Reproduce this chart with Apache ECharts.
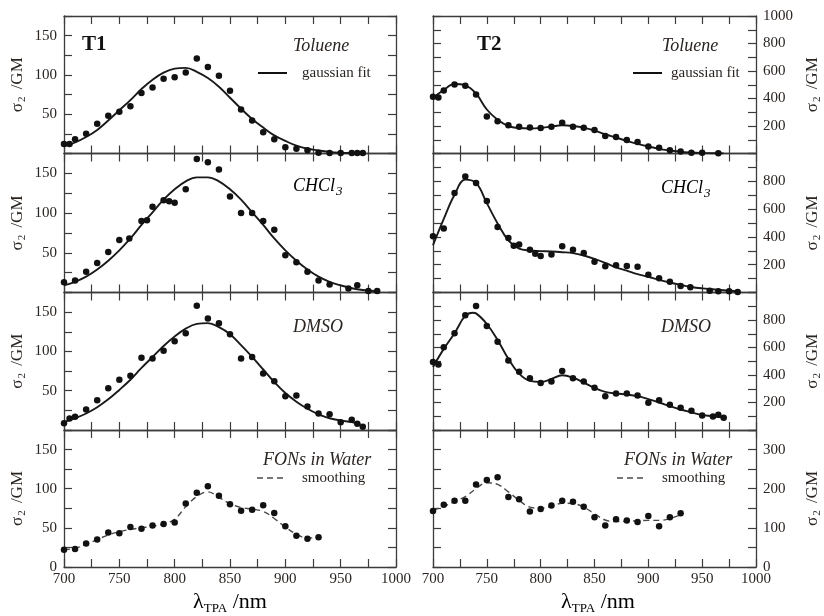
<!DOCTYPE html>
<html>
<head>
<meta charset="utf-8">
<script src="https://cdn.jsdelivr.net/npm/echarts@6/dist/echarts.min.js"></script>
<style>html,body{margin:0;padding:0;background:#fff;}#c{width:824px;height:616px;}</style>
</head>
<body>
<div id="c"></div>
<script>
// ---------------- data ----------------
const xTicks = [700, 750, 800, 850, 900, 950, 1000];

// T1
const t1TolPts = [[700,12],[705,12],[710,18],[720,25],[730,38],[740,48],[750,53],[760,60],[770,77],[780,84],[790,95],[800,97],[810,103],[820,121],[830,110],[840,99],[850,80],[860,56],[870,42],[880,27],[890,18],[900,8],[910,6],[920,4],[930,1],[940,0.5],[950,0.5],[960,0.5],[965,0.5],[970,0.5]];
const t1TolFit = [[700,9],[710,14],[720,21],[730,30],[740,42],[750,55],[760,68],[770,82],[780,94],[790,103],[800,108],[810,109],[820,104],[830,96],[840,85],[850,71],[860,57],[870,44],[880,33],[890,23],[900,16],[910,10],[920,6],[930,4],[940,2],[950,1],[960,0.6],[970,0.3]];

const t1ChPts = [[700,13],[710,15],[720,26],[730,37],[740,51],[750,66],[759,68],[770,90],[775,91],[780,108],[790,116],[795,115],[800,113],[810,130],[820,168],[830,164],[840,155],[850,121],[860,100],[870,100],[880,90],[890,79],[900,47],[910,38],[920,26],[930,15],[940,10],[957,5],[965,9],[975,2],[983,2]];
const t1ChFit = [[700,9],[710,13.5],[720,20],[730,29],[740,40],[750,53],[760,68],[770,85],[780,101],[790,117],[800,130],[810,140],[820,145],[830,145],[840,140],[850,130],[860,117],[870,101],[880,85],[890,68],[900,53],[910,40],[920,29],[930,20],[940,13.5],[950,9],[960,5.4],[970,3.2],[985,1.5]];

const t1DmPts = [[700,8.5],[705,14.5],[710,17],[720,26],[730,38],[740,53],[750,64],[760,69],[770,92],[780,91],[790,101],[800,113],[810,123],[820,158],[830,142],[840,136],[850,122],[860,91],[870,93],[880,72],[890,62],[900,43],[910,44],[920,30],[930,21],[940,20],[950,10],[960,13],[965,8],[970,4]];
const t1DmFit = [[700,10],[710,15],[720,21],[730,29],[740,39],[750,51],[760,64],[770,79],[780,93],[790,107],[800,119],[810,129],[820,135],[830,136],[840,131],[850,122],[860,108],[870,93],[880,77],[890,61],[900,47],[910,36],[920,27],[930,20],[940,15],[950,12],[960,10],[968,7]];

const t1WaPts = [[700,22],[710,23],[720,30],[730,35],[740,44],[750,43],[760,51],[770,49],[780,53],[790,55],[800,57],[810,81],[820,95],[830,103],[840,91],[850,80],[860,72],[870,73],[880,79],[890,69],[900,52],[910,40],[920,36],[930,38]];
const t1WaSmooth = [[700,22],[710,24],[720,29],[730,35],[740,41],[750,45],[760,48],[770,50],[780,52],[790,55],[800,61],[810,77],[820,90],[830,96],[840,89],[850,81],[860,76],[870,74],[880,71],[890,62],[900,51],[910,42],[920,37],[930,38]];

// T2
const t2TolPts = [[700,412],[705,407],[710,458],[720,501],[730,492],[740,429],[750,270],[760,234],[770,205],[780,195],[790,190],[800,186],[810,195],[820,224],[830,195],[840,188],[850,171],[860,128],[870,120],[880,99],[890,84],[900,51],[910,41],[920,24],[930,14],[940,5],[950,5],[965,2]];
const t2TolFit = [[700,405],[710,462],[720,505],[730,495],[740,435],[750,320],[760,245],[770,200],[780,185],[790,182],[800,186],[810,196],[820,205],[830,200],[840,188],[850,166],[860,140],[870,116],[880,92],[890,70],[900,51],[910,34],[920,22],[930,12],[940,7],[950,4],[960,2],[970,1]];

const t2ChPts = [[700,404],[710,460],[720,715],[730,834],[740,788],[750,659],[760,472],[770,392],[775,336],[780,346],[790,307],[795,278],[800,263],[810,273],[820,332],[830,307],[840,285],[850,222],[860,188],[870,196],[880,191],[890,186],[900,128],[910,103],[920,77],[930,47],[939,38],[957,13],[965,9],[975,9],[983,4]];
const t2ChFit = [[700,340],[710,530],[720,703],[730,812],[740,788],[750,643],[760,497],[770,375],[780,315],[790,302],[800,298],[810,295],[820,290],[830,283],[840,266],[850,242],[860,213],[870,181],[880,157],[890,132],[900,113],[910,91],[920,72],[930,55],[940,40],[950,30],[960,23],[970,16],[980,11],[985,10]];

const t2DmPts = [[700,494],[705,477],[710,602],[720,704],[730,834],[740,901],[750,757],[760,641],[770,506],[780,424],[790,376],[800,342],[810,352],[820,429],[830,376],[840,352],[850,308],[860,246],[870,265],[880,265],[890,251],[900,198],[910,217],[920,183],[930,161],[940,140],[950,106],[960,99],[965,111],[970,89]];
const t2DmFit = [[700,458],[710,590],[720,704],[730,831],[737,853],[740,848],[750,771],[760,655],[770,518],[780,410],[790,357],[800,349],[810,371],[820,398],[830,381],[840,345],[850,306],[860,277],[870,265],[880,258],[890,246],[900,224],[910,200],[920,173],[930,149],[940,128],[950,108],[960,101],[970,89]];

const t2WaPts = [[700,143],[710,159],[720,169],[730,169],[740,211],[750,222],[760,229],[770,179],[780,173],[790,142],[800,148],[810,157],[820,169],[830,167],[840,154],[850,127],[860,106],[870,122],[880,119],[890,115],[900,130],[910,104],[920,127],[930,137]];
const t2WaSmooth = [[700,145],[710,155],[720,167],[730,180],[740,200],[750,215],[760,211],[770,192],[780,170],[790,153],[800,150],[810,155],[820,163],[830,162],[840,153],[850,136],[860,120],[870,116],[880,117],[890,118],[900,119],[910,119],[920,124],[930,133]];

const solventNames = ['Toluene', 'CHCl3', 'DMSO', 'FONs in Water'];
const compoundNames = ['T1', 'T2'];
const leftYLabels = [50, 100, 150];
const rightYLabels = [200, 400, 600, 800, 1000];
const waterRightYLabels = [0, 100, 200, 300];

// ---------------- layout / styles ----------------
const SERIF = "'Liberation Serif','DejaVu Serif',serif";
const TXT = '#2b2522';
const AX = '#3c3c3c';
const cols = [{left: 64, width: 332}, {left: 433, width: 331}];
const rows = [{top: 16, height: 137.5}, {top: 153.5, height: 139}, {top: 292.5, height: 137.5}, {top: 430, height: 137}];

const panels = [
  {r:0, c:0, pts:t1TolPts, fit:t1TolFit, dash:false},
  {r:1, c:0, pts:t1ChPts, fit:t1ChFit, dash:false},
  {r:2, c:0, pts:t1DmPts, fit:t1DmFit, dash:false},
  {r:3, c:0, pts:t1WaPts, fit:t1WaSmooth, dash:true},
  {r:0, c:1, pts:t2TolPts, fit:t2TolFit, dash:false},
  {r:1, c:1, pts:t2ChPts, fit:t2ChFit, dash:false},
  {r:2, c:1, pts:t2DmPts, fit:t2DmFit, dash:false},
  {r:3, c:1, pts:t2WaPts, fit:t2WaSmooth, dash:true}
];

const yRich = {
  a: {fontFamily: SERIF, fontSize: 17, color: TXT},
  s: {fontFamily: SERIF, fontSize: 11, color: TXT, padding: [10, 3, 0, 1]}
};
const yName = '{a|σ}{s|2}{a| /GM}';

const grid = [], xAxis = [], yAxis = [], series = [];
panels.forEach((p, i) => {
  grid.push({left: cols[p.c].left, width: cols[p.c].width, top: rows[p.r].top, height: rows[p.r].height});
  const line = {show: true, onZero: false, lineStyle: {color: AX, width: 1.3}};
  const tick = {show: true, inside: true, length: 8, lineStyle: {color: AX, width: 1.2}};
  ['bottom', 'top'].forEach(pos => {
    xAxis.push({
      gridIndex: i, type: 'value', position: pos, min: 700, max: 1000, interval: 25,
      axisLine: line, axisTick: tick, splitLine: {show: false},
      axisLabel: {show: pos === 'bottom' && p.r === 3, margin: 5, fontFamily: SERIF, fontSize: 15, color: TXT,
        formatter: v => xTicks.indexOf(v) >= 0 ? String(v) : ''}
    });
  });
  let ymax, yint, labs;
  if (p.c === 0) { ymax = 175; yint = 25; labs = p.r === 3 ? [0].concat(leftYLabels) : leftYLabels; }
  else if (p.r === 3) { ymax = 350; yint = 50; labs = waterRightYLabels; }
  else { ymax = 1000; yint = 100; labs = p.r === 0 ? rightYLabels : rightYLabels.slice(0, 4); }
  ['left', 'right'].forEach(pos => {
    const labelled = (pos === 'left' && p.c === 0) || (pos === 'right' && p.c === 1);
    yAxis.push({
      gridIndex: i, type: 'value', position: pos, min: 0, max: ymax, interval: yint,
      axisLine: line, axisTick: tick, splitLine: {show: false},
      axisLabel: {show: labelled, margin: 7, fontFamily: SERIF, fontSize: 15, color: TXT,
        formatter: v => labs.indexOf(v) >= 0 ? String(v) : ''},
      name: labelled ? yName : '', nameLocation: 'middle', nameRotate: 90,
      nameGap: p.c === 0 ? 36 : 46,
      nameTextStyle: {rich: yRich}
    });
  });
  series.push({
    type: 'line', xAxisIndex: 2 * i, yAxisIndex: 2 * i, data: p.fit, smooth: 0.4,
    showSymbol: false, silent: true, z: 2,
    lineStyle: p.dash ? {color: '#4a4a4a', width: 1.4, type: [6, 4]} : {color: '#1a1a1a', width: 1.9}
  });
  series.push({
    type: 'scatter', xAxisIndex: 2 * i, yAxisIndex: 2 * i, data: p.pts, symbol: 'circle',
    symbolSize: 6.5, itemStyle: {color: '#111', opacity: 1}, z: 3
  });
});

// ---------------- annotations ----------------
const it = (txt, x, y, size) => ({type: 'text', x: x, y: y, style: {text: txt, fontFamily: SERIF, fontStyle: 'italic', fontSize: size, fill: TXT, verticalAlign: 'middle'}});
const graphic = [];
graphic.push({type: 'text', x: 82, y: 45, style: {text: compoundNames[0], fontFamily: SERIF, fontWeight: 'bold', fontSize: 21, fill: '#111', verticalAlign: 'middle'}});
graphic.push({type: 'text', x: 477, y: 45, style: {text: compoundNames[1], fontFamily: SERIF, fontWeight: 'bold', fontSize: 21, fill: '#111', verticalAlign: 'middle'}});
[[0, 293, 302, 258], [1, 662, 671, 633]].forEach(([c, tx, lx, l0]) => {
  graphic.push(it(solventNames[0], tx, 46, 18));
  graphic.push({type: 'line', shape: {x1: l0, y1: 73, x2: l0 + 29, y2: 73}, style: {stroke: '#111', lineWidth: 2}});
  graphic.push({type: 'text', x: lx, y: 73, style: {text: 'gaussian fit', fontFamily: SERIF, fontSize: 15, fill: TXT, verticalAlign: 'middle'}});
});
const chRich = {i: {fontFamily: SERIF, fontStyle: 'italic', fontSize: 18, color: TXT}, s: {fontFamily: SERIF, fontStyle: 'italic', fontSize: 13, color: TXT, padding: [12, 0, 0, 1]}};
graphic.push({type: 'text', x: 293, y: 186, style: {text: '{i|CHCl}{s|3}', rich: chRich, verticalAlign: 'middle'}});
graphic.push({type: 'text', x: 661, y: 188, style: {text: '{i|CHCl}{s|3}', rich: chRich, verticalAlign: 'middle'}});
graphic.push(it(solventNames[2], 293, 327, 18));
graphic.push(it(solventNames[2], 661, 327, 18));
graphic.push(it(solventNames[3], 263, 460, 18));
graphic.push(it(solventNames[3], 624, 460, 18));
[[257, 302], [617, 662]].forEach(([l0, tx]) => {
  graphic.push({type: 'line', shape: {x1: l0, y1: 478, x2: l0 + 30, y2: 478}, style: {stroke: '#4a4a4a', lineWidth: 1.4, lineDash: [6, 4]}});
  graphic.push({type: 'text', x: tx, y: 478, style: {text: 'smoothing', fontFamily: SERIF, fontSize: 15, fill: TXT, verticalAlign: 'middle'}});
});
const xRich = {l: {fontFamily: SERIF, fontSize: 22, color: TXT}, s: {fontFamily: SERIF, fontSize: 13, color: TXT, padding: [14, 0, 0, 0]}};
[230, 598].forEach(cx => {
  graphic.push({type: 'text', x: cx, y: 602, style: {text: '{l|λ}{s|TPA}{l| /nm}', rich: xRich, align: 'center', verticalAlign: 'middle'}});
});

const chart = echarts.init(document.getElementById('c'), null, {renderer: 'canvas'});
chart.setOption({
  animation: false,
  backgroundColor: '#fff',
  grid: grid, xAxis: xAxis, yAxis: yAxis, series: series, graphic: graphic
});
</script>
</body>
</html>
